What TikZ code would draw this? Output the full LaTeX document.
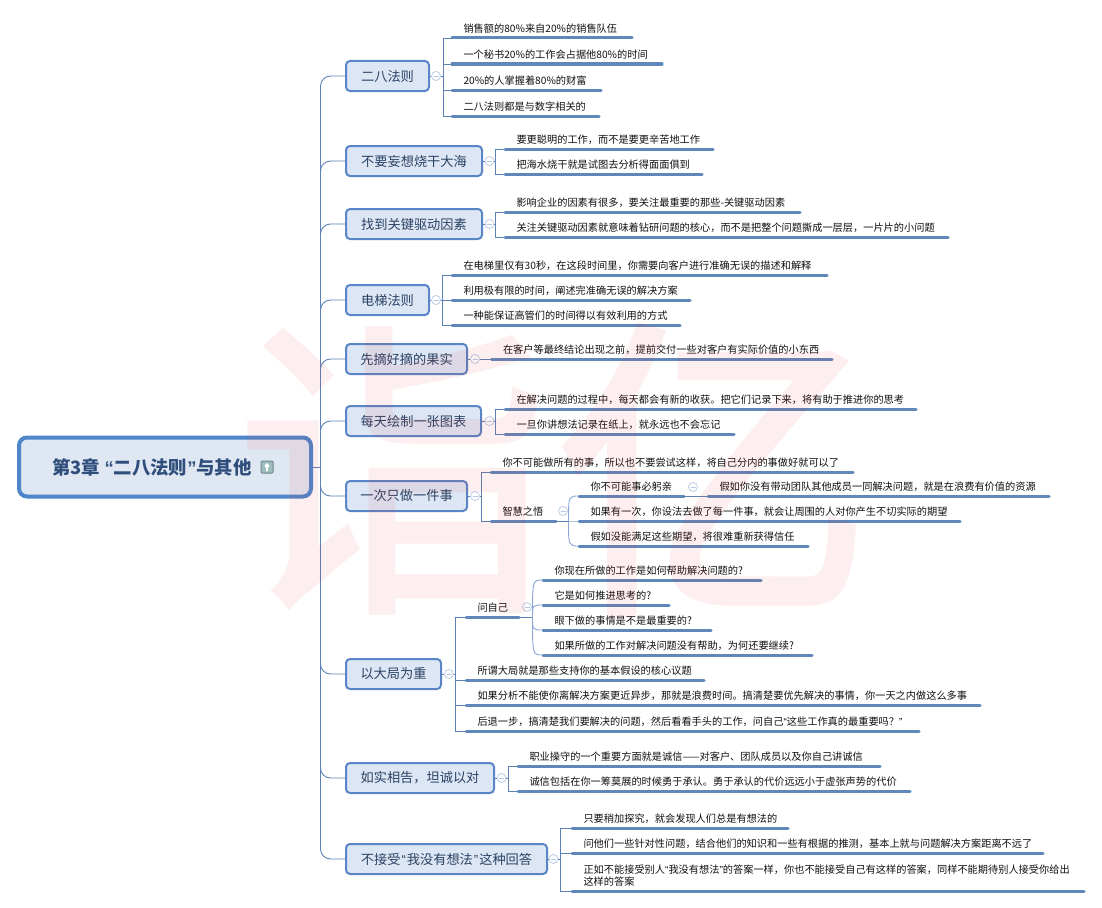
\documentclass[tikz,border=0pt]{standalone}
\usepackage{fontspec}
\setmainfont{Noto Sans CJK SC}
\newfontfamily\latf{Liberation Sans}
\newfontfamily\wmf{Noto Sans CJK SC Medium}
\usetikzlibrary{calc}
\definecolor{ulinec}{HTML}{5F87B9}
\definecolor{connc}{HTML}{5C82B5}
\definecolor{curvec}{HTML}{8AA5D6}
\definecolor{knobc}{HTML}{B4C7E6}
\definecolor{topicf}{HTML}{DCE6F4}
\definecolor{topicb}{HTML}{5A85C6}
\definecolor{topict}{HTML}{2B4263}
\definecolor{rootb}{HTML}{4F86CB}
\definecolor{rootf}{HTML}{DFE7F3}
\definecolor{roott}{HTML}{2F4E7C}
\definecolor{leaft}{HTML}{111111}
\definecolor{wmc}{HTML}{F02828}
\definecolor{iconb}{HTML}{6E8888}
\definecolor{iconf}{HTML}{9DBDBE}
\newcommand{\lqt}{{\latf “}}
\newcommand{\rqt}{{\latf ”}}
\tikzset{
  leafnode/.style={inner sep=0pt,outer sep=0pt,anchor=south west,align=left,
    font=\fontsize{10.2}{12}\selectfont,text=leaft,minimum height=18pt},
  uline/.style={draw=ulinec,line width=3pt,line cap=round},
  conn/.style={draw=connc,line width=0.9pt},
  curvelink/.style={draw=curvec,line width=0.9pt},
  trunk/.style={draw=connc,line width=0.9pt,rounded corners=10pt},
  topic/.style={draw=topicb,fill=topicf,line width=2pt,rounded corners=4pt,anchor=west,
    minimum height=30pt,inner sep=0pt,text=topict,font=\fontsize{13.2}{15}\selectfont},
  knob/.style={circle,draw=knobc,line width=0.7pt,minimum size=9pt,inner sep=0pt,
    path picture={\draw[knobc,line width=0.7pt]
      ([xshift=-2.5pt]path picture bounding box.center) -- ([xshift=2.5pt]path picture bounding box.center);}},
}
\newcommand{\leaf}[6][]{%
  \pgfmathsetlengthmacro{\lw}{(#4-#3)*1pt}%
  \node[leafnode,minimum width=\lw,text width=\lw,#1] (#2) at (#3,#5) {\hspace*{11.5pt}#6};
  \draw[uline] (#2.south west) -- (#2.south east);
}
\newcommand{\topicbox}[5]{%
  \pgfmathsetlengthmacro{\lw}{(#3-2)*1pt}%
  \node[topic,minimum width=\lw] (#1) at (345,#4) {\raisebox{-0.8pt}{#5}};
  \draw[trunk] (tr) |- (#1.west);
}
\newcommand{\knobat}[3]{\node[knob] (#1) at (#2,#3) {};}
\newcommand{\fork}[4]{% topic knob vertex x
  \coordinate (#3) at (#4,0 |- #2.east);
  \draw[conn] (#1.east) -- (#2.west);
  \draw[conn] (#2.east) -- (#3);
}
\newcommand{\tobar}[2]{\draw[conn] (#1) |- (#2.south west);}
\newcommand{\tocurve}[2]{\draw[curvelink] (#1) .. controls (#1 |- #2.south west) .. (#2.south west);}
\begin{document}
\begin{tikzpicture}[x=1pt,y=-1pt]
\useasboundingbox (0,0) rectangle (1102,907);
\fill[white] (0,0) rectangle (1102,907);
% root
\node[draw=rootb,fill=rootf,line width=4pt,rounded corners=8pt,minimum width=292pt,minimum height=59pt,
  inner sep=0pt,anchor=west,text=roott,font=\fontsize{18.4}{21}\selectfont\bfseries] (root) at (17,467)
  {第3章 \lqt{}二八法则\rqt{}与其他\hspace*{26pt}};
\node[draw=iconb,fill=iconf,line width=1pt,inner sep=0pt,minimum size=12pt,rounded corners=1pt,
  path picture={\fill[white] ([xshift=-3pt,yshift=0.5pt]path picture bounding box.center)
     -- ([yshift=4.5pt]path picture bounding box.center)
     -- ([xshift=3pt,yshift=0.5pt]path picture bounding box.center)
     -- ([xshift=1pt,yshift=0.5pt]path picture bounding box.center)
     -- ([xshift=1pt,yshift=-4.5pt]path picture bounding box.center)
     -- ([xshift=-1pt,yshift=-4.5pt]path picture bounding box.center)
     -- ([xshift=-1pt,yshift=0.5pt]path picture bounding box.center) -- cycle;}] (icon) at (267,467) {};
\coordinate (tr) at (320.5,467);
\draw[conn] (root.east) -- (tr);
% topics
\topicbox{t1}{0}{85}{76}{二八法则}
\topicbox{t2}{0}{138}{161}{不要妄想烧干大海}
\topicbox{t3}{0}{138}{224}{找到关键驱动因素}
\topicbox{t4}{0}{85}{300}{电梯法则}
\topicbox{t5}{0}{123}{359}{先摘好摘的果实}
\topicbox{t6}{0}{137}{421}{每天绘制一张图表}
\topicbox{t7}{0}{123}{496}{一次只做一件事}
\topicbox{t8}{0}{97}{674}{以大局为重}
\topicbox{t9}{0}{150}{778}{如实相告，坦诚以对}
\topicbox{t10}{0}{203}{859}{不接受\kern1pt\lqt{}\kern1pt我没有想法\kern1pt\rqt{}\kern1pt这种回答}
% knobs
\knobat{k1}{436}{76}
\knobat{k2}{489.5}{161}
\knobat{k3}{489.5}{224}
\knobat{k4}{436}{300}
\knobat{k5}{475}{359}
\knobat{k6}{489.5}{421}
\knobat{k7}{475}{496}
\knobat{k8}{449}{674}
\knobat{k9}{501.5}{778}
\knobat{k10}{553.5}{859}
% 二八法则
\fork{t1}{k1}{v1}{443}
\leaf{a1}{452}{632}{38}{销售额的80\%来自20\%的销售队伍}
\leaf{a2}{452}{662}{64}{一个秘书20\%的工作会占据他80\%的时间}
\leaf{a3}{452}{601}{90}{20\%的人掌握着80\%的财富}
\leaf{a4}{452}{599}{116}{二八法则都是与数字相关的}
\foreach \n in {a1,a2,a3,a4} {\tobar{v1}{\n}}
% 不要妄想
\fork{t2}{k2}{v2}{495}
\leaf{b1}{505}{713}{149}{要更聪明的工作，而不是要更辛苦地工作}
\leaf{b2}{505}{702}{174}{把海水烧干就是试图去分析得面面俱到}
\foreach \n in {b1,b2} {\tobar{v2}{\n}}
% 找到
\fork{t3}{k3}{v3}{495}
\leaf{c1}{505}{800}{212}{影响企业的因素有很多，要关注最重要的那些-关键驱动因素}
\leaf{c2}{505}{948}{237}{关注关键驱动因素就意味着钻研问题的核心，而不是把整个问题撕成一层层，一片片的小问题}
\foreach \n in {c1,c2} {\tobar{v3}{\n}}
% 电梯
\fork{t4}{k4}{v4}{442.5}
\leaf{d1}{452}{827}{275}{在电梯里仅有30秒，在这段时间里，你需要向客户进行准确无误的描述和解释}
\leaf{d2}{452}{690}{300}{利用极有限的时间，阐述完准确无误的解决方案}
\leaf{d3}{452}{680}{325}{一种能保证高管们的时间得以有效利用的方式}
\foreach \n in {d1,d2,d3} {\tobar{v4}{\n}}
% 先摘
\leaf{e1}{491.5}{832}{359}{在客户等最终结论出现之前，提前交付一些对客户有实际价值的小东西}
\draw[conn] (t5.east) -- (k5.west);
\draw[conn] (k5.east) -- (e1.south west);
% 每天
\fork{t6}{k6}{v6}{495}
\leaf{f1}{505}{916}{409}{在解决问题的过程中，每天都会有新的收获。把它们记录下来，将有助于推进你的思考}
\leaf{f2}{505}{734}{434}{一旦你讲想法记录在纸上，就永远也不会忘记}
\foreach \n in {f1,f2} {\tobar{v6}{\n}}
% 一次
\fork{t7}{k7}{v7}{481}
\leaf{g1}{491}{853}{472}{你不可能做所有的事，所以也不要尝试这样，将自己分内的事做好就可以了}
\leaf{g2}{491}{556}{521}{智慧之悟}
\foreach \n in {g1,g2} {\tobar{v7}{\n}}
\knobat{kg}{563}{511}
\coordinate (hg) at (568.5,521);
\draw[conn] (g2.south east) -- (hg);
\leaf{g3}{579}{684}{496}{你不可能事必躬亲}
\leaf{g4}{579}{960}{521}{如果有一次，你设法去做了每一件事，就会让周围的人对你产生不切实际的期望}
\leaf{g5}{579}{808}{546}{假如没能满足这些期望，将很难重新获得信任}
\foreach \n in {g3,g4,g5} {\tocurve{hg}{\n}}
\knobat{kh}{693}{487}
\leaf{g6}{708}{1049}{496}{假如你没有带动团队其他成员一同解决问题，就是在浪费有价值的资源}
\draw[conn] (g3.south east) -- (g6.south west);
% 以大局为重
\fork{t8}{k8}{v8}{455.5}
\leaf{h1}{466}{519}{617}{问自己}
\leaf{h2}{466}{704}{680}{所谓大局就是那些支持你的基本假设的核心议题}
\leaf{h3}{466}{980}{705}{如果分析不能使你离解决方案更近异步，那就是浪费时间。搞清楚要优先解决的事情，你一天之内做这么多事}
\leaf{h4}{466}{919}{731}{后退一步，搞清楚我们要解决的问题，然后看看手头的工作，问自己\lqt{}这些工作真的最重要吗？\rqt{}}
\foreach \n in {h1,h2,h3,h4} {\tobar{v8}{\n}}
\knobat{kq}{527}{607}
\coordinate (hq) at (532.5,617);
\draw[conn] (h1.south east) -- (hq);
\leaf{q1}{543}{761}{580}{你现在所做的工作是如何帮助解决问题的?}
\leaf{q2}{543}{669}{605}{它是如何推进思考的?}
\leaf{q3}{543}{711}{630}{眼下做的事情是不是最重要的?}
\leaf{q4}{543}{812}{655}{如果所做的工作对解决问题没有帮助，为何还要继续?}
\foreach \n in {q1,q2,q3,q4} {\tocurve{hq}{\n}}
% 如实相告
\fork{t9}{k9}{v9}{508}
\leaf{i1}{518}{880}{766}{职业操守的一个重要方面就是诚信——对客户、团队成员以及你自己讲诚信}
\leaf{i2}{518}{910}{791}{诚信包括在你一筹莫展的时候勇于承认。勇于承认的代价远远小于虚张声势的代价}
\foreach \n in {i1,i2} {\tobar{v9}{\n}}
% 不接受
\fork{t10}{k10}{v10}{560.5}
\leaf{j1}{572}{788}{828}{只要稍加探究，就会发现人们总是有想法的}
\leaf{j2}{572}{1043}{853}{问他们一些针对性问题，结合他们的知识和一些有根据的推测，基本上就与问题解决方案距离不远了}
\leaf[minimum height=31pt]{j3}{572}{1084}{891}{正如不能接受别人\lqt{}我没有想法\rqt{}的答案一样，你也不能接受自己有这样的答案，同样不能期待别人接受你给出\\\hspace*{11.5pt}这样的答案}
\foreach \n in {j1,j2,j3} {\tobar{v10}{\n}}
% watermark
\node[text=wmc,text opacity=0.07,inner sep=0pt,font=\fontsize{320}{330}\selectfont\wmf] (wm) at (553,470) {诣亿};
\end{tikzpicture}
\end{document}
